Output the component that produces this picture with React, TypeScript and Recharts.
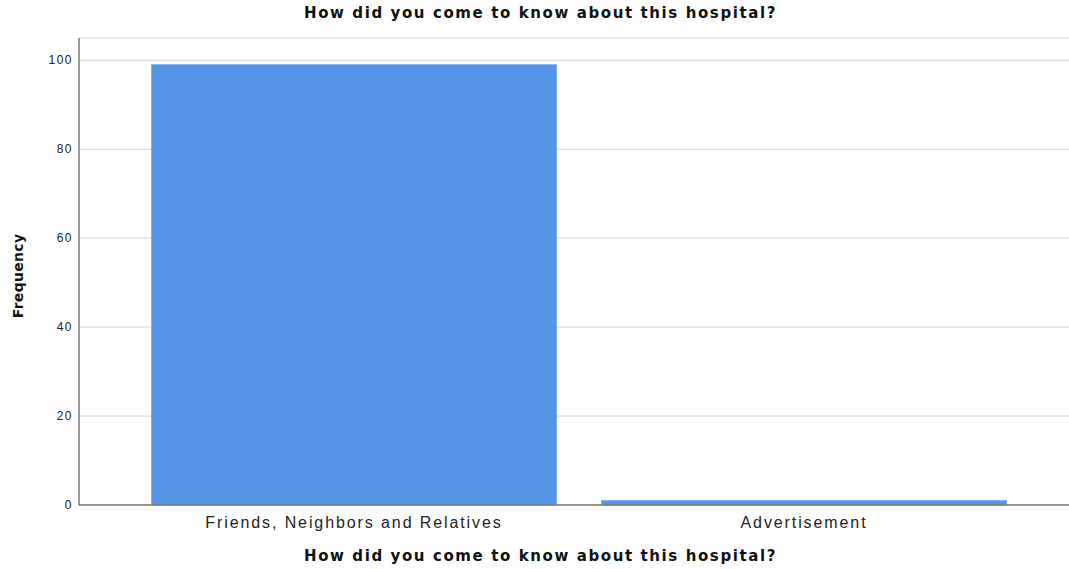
import React from 'react'
import { BarChart, Bar, XAxis, YAxis, CartesianGrid } from 'recharts'

const CATEGORIES = ['Friends, Neighbors and Relatives', 'Advertisement']
const FREQUENCY = [99, 1]
const Y_TICKS = [0, 20, 40, 60, 80, 100]

const TITLE = 'How did you come to know about this hospital?'
const SANS = '"Liberation Sans", Arial, sans-serif'
const WIDE = '"DejaVu Sans", sans-serif'

const data = CATEGORIES.map((name, i) => ({ name, value: FREQUENCY[i] }))

const HEAD = { fontFamily: WIDE, fontSize: 15, fontWeight: 700, letterSpacing: '1.6px', color: '#111' }

export default function App() {
  return (
    <div style={{ position: 'relative', width: 1069, height: 569, background: '#fff' }}>
      <style>{'body{margin:0}'}</style>
      <div style={{ ...HEAD, position: 'absolute', top: 4, left: 6, width: 1069, textAlign: 'center' }}>
        {TITLE}
      </div>
      <BarChart
        width={1069}
        height={569}
        data={data}
        margin={{ top: 38, right: 0, bottom: 34, left: 0 }}
        barCategoryGap="5%"
      >
        <CartesianGrid vertical={false} stroke="#d4d4d4" strokeWidth={1} />
        <XAxis
          dataKey="name"
          height={30}
          padding={{ left: 50, right: 40 }}
          tickLine={false}
          axisLine={{ stroke: '#7a7a7a', strokeWidth: 1.5 }}
          tick={{ fontSize: 16, fill: '#222', fontFamily: SANS, letterSpacing: 1.9 }}
          tickMargin={6}
          interval={0}
        />
        <YAxis
          width={79}
          domain={[0, 105]}
          ticks={Y_TICKS}
          tickLine={false}
          axisLine={{ stroke: '#7a7a7a', strokeWidth: 1.5 }}
          tick={{ fontSize: 12, fill: '#222', fontFamily: SANS, letterSpacing: 1.5 }}
          tickMargin={0}
        />
        <Bar dataKey="value" fill="#5595E5" stroke="#7aaeee" strokeWidth={1} isAnimationActive={false} />
      </BarChart>
      <div style={{ ...HEAD, position: 'absolute', top: 547, left: 6, width: 1069, textAlign: 'center' }}>
        {TITLE}
      </div>
      <div style={{
        ...HEAD, fontSize: 14, letterSpacing: '0.3px', position: 'absolute', left: 18, top: 276,
        transform: 'translate(-50%, -50%) rotate(-90deg)', whiteSpace: 'nowrap',
      }}>
        Frequency
      </div>
    </div>
  )
}
